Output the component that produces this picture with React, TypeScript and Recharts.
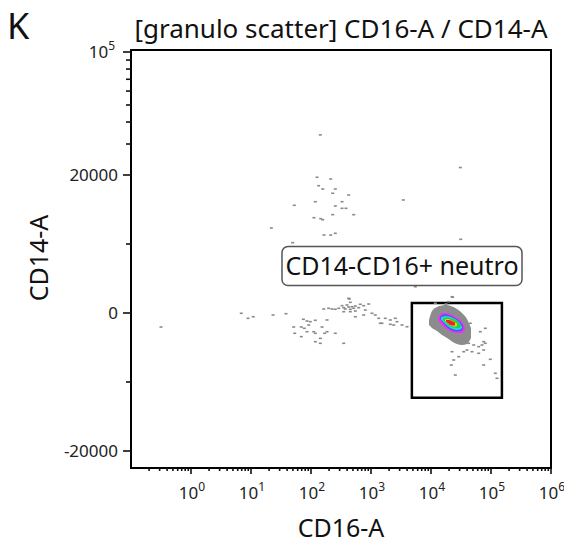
import { ComposedChart, Scatter, Area, XAxis, YAxis, ReferenceArea, ReferenceDot } from 'recharts';

const FONT = '"Noto Sans", "DejaVu Sans", sans-serif';

// individual events outside the dense cluster: [CD16-A, CD14-A]
const sparseEvents: [number, number][] = [
  [143, 33800], [30800, 22050], [126, 19670], [213, 19420], [134, 18450],
  [157, 17970], [254, 17970], [230, 17350], [425, 17100], [118, 16130],
  [329, 16130], [3455, 16380], [52.7, 15610], [254, 15510], [329, 15170],
  [383, 15170], [515, 14250], [230, 14250], [112, 13810], [145, 13670],
  [157, 13520], [21.8, 12320], [165, 11300], [213, 11300], [254, 11550],
  [49.5, 10190], [31300, 10680], [210, 9380], [5475, 3810], [425, 2130],
  [22400, 2360], [1344, 5170],
  [0.316, -2030], [6.89, -43], [8.91, -770], [10.9, -540], [23.3, -290],
  [38.3, -100], [51.5, -2030], [53.5, -2940], [68.9, -3430], [74.5, -910],
  [85.8, -1160], [97.3, -1260], [118, -1060], [68.9, -2030], [77.3, -2220],
  [91.6, -1740], [85.8, -2710], [111, -2710], [118, -2940], [153, -2030],
  [169, -2940], [185, -2710], [254, -2940], [143, -3670], [118, -4160],
  [143, -4390], [351, -4390], [185, -1010],
  [163, 580], [197, 680], [224, 580], [254, 540], [290, 680], [329, 1060],
  [351, 770], [373, 580], [398, 1160], [425, 870], [452, 540], [483, 910],
  [515, 680], [548, 1010], [624, 770], [435, 2030], [452, 1550], [351, 190],
  [452, 190], [548, 290], [663, 1260], [756, 1060], [915, 1300], [804, 430],
  [548, -540], [756, -290], [1039, -43], [1180, -290], [1344, -770],
  [1525, -1490], [1730, -770], [2097, -1010], [2541, -770], [2712, -1260],
  [2097, -1640], [2390, -1740], [3285, -1740], [3981, -1990], [1429, -1490],
  [23000, 2280], [17780, 1300], [11800, 1410], [19720, 1640], [45190, -1490],
  [66320, -2710], [80350, -2220], [42470, -4390], [51500, -4640], [62370, -4880],
  [75520, -4160], [70790, -4640], [80350, -4390], [35080, -5610], [39810, -5360],
  [48200, -5610], [22390, -5610], [28960, -6330], [23900, -6810], [62370, -5840],
  [75520, -5360], [97300, -6710], [75520, -7540], [21790, -7540], [25410, -8990],
  [118000, -8740], [125900, -9460],
];

// density contours of the neutrophil cluster: [CD16-A, CD14-A upper, CD14-A lower]
const contourGray: [number, number, number][] = [
  [9260, -1015, -1740], [10390, 290, -2170], [12590, 870, -2610], [15250, 1090, -3190],
  [18480, 1160, -3620], [22390, 940, -4130], [27120, 580, -4490], [32860, 0, -4640],
  [39810, -870, -4490], [46420, -2170, -3620],
];
const contourMagenta: [number, number, number][] = [
  [13090, -725, -1015], [15250, 0, -1739], [18480, 0, -2319], [22390, -290, -2754],
  [27120, -725, -2899], [32860, -1304, -2899], [36870, -2174, -2464],
];
const contourBlue: [number, number, number][] = [
  [14130, -580, -870], [16480, -220, -1590], [19200, -290, -2170], [22390, -510, -2540],
  [27120, -940, -2680], [31620, -1450, -2610], [34150, -2030, -2320],
];
const contourCyan: [number, number, number][] = [
  [14680, -650, -940], [17110, -435, -1520], [19950, -510, -2030], [23260, -725, -2320],
  [27120, -1090, -2460], [30430, -1520, -2390], [32860, -2030, -2170],
];
const contourGreen: [number, number, number][] = [
  [15850, -800, -1015], [17780, -650, -1450], [20730, -725, -1880], [24170, -940, -2100],
  [28180, -1300, -2170], [31030, -1740, -2030],
];
const contourYellow: [number, number, number][] = [
  [17110, -940, -1160], [19200, -870, -1520], [21540, -1015, -1810], [24170, -1230, -1960],
  [27120, -1520, -1880],
];
const contourRed: [number, number, number][] = [
  [17780, -1015, -1230], [19950, -1015, -1590], [22390, -1160, -1810], [25120, -1380, -1810],
];

const yTickValues = [-20000, -10000, 0, 10000, 20000, 30000, 40000, 50000, 60000, 70000, 80000, 90000, 100000];
const yTickLabels = ['-20000', '', '0', '', '20000', '', '', '', '', '', '', '', '10^5'];

const gate = { x1: 4800, x2: 152000, y1: -12300, y2: 1450 };
const gateLabel = { x: 3285, y: 6800, text: 'CD14-CD16+ neutro' };

const X_DOMAIN: [number, number] = [0.1, 1000000];
const Y_MIN = -22464;
const LIN_TOP = 20000;
const LOG_SPAN = 17826; // display units between 2e4 and 1e5

// biexponential-like display: linear up to 20000, log above
function toDisplay(v: number) {
  if (v <= LIN_TOP) return v;
  return LIN_TOP + (Math.log10(v / LIN_TOP) / Math.log10(5)) * LOG_SPAN;
}
const Y_MAX = 38116;

const W = 564;
const H = 543;

const scatterData = sparseEvents.map(([x, y]) => ({ x, y: toDisplay(y) }));
const toRange = (rows: [number, number, number][]) =>
  rows.map(([x, hi, lo]) => ({ x, range: [toDisplay(lo), toDisplay(hi)] }));

const contours = [
  { rows: contourGray, color: '#8c8c8c' },
  { rows: contourMagenta, color: '#f22ef2' },
  { rows: contourBlue, color: '#3a5cff' },
  { rows: contourCyan, color: '#22d8e6' },
  { rows: contourGreen, color: '#2ccf3a' },
  { rows: contourYellow, color: '#e8d81c' },
  { rows: contourRed, color: '#e8251e' },
];

// minor ticks at 2..9 of every decade plus the decades themselves
const xTicks: number[] = [];
for (let e = -1; e < 6; e++) {
  for (let m = 1; m < 10; m++) {
    if (e === -1 && m === 1) continue;
    xTicks.push(m * Math.pow(10, e));
  }
}
xTicks.push(1000000);

function XTick(props: any) {
  const { x, y, payload } = props;
  const v = payload.value as number;
  const lg = Math.log10(v);
  const e = Math.round(lg);
  const major = Math.abs(lg - e) < 1e-6;
  return (
    <g>
      <line x1={x} x2={x} y1={y} y2={y + (major ? 6 : 3)} stroke="#111" strokeWidth={1.6} />
      {major && e >= 0 && (
        <text x={x + 1} y={y + 31} textAnchor="middle" fontSize={17} fontFamily={FONT} fill="#222">
          10<tspan dy={-8} fontSize={12}>{e}</tspan>
        </text>
      )}
    </g>
  );
}

function YTick(props: any) {
  const { x, y, index } = props;
  const label = yTickLabels[index] ?? '';
  const major = label !== '';
  return (
    <g>
      <line x1={x - (major ? 8 : 5)} x2={x} y1={y} y2={y} stroke="#111" strokeWidth={1.6} />
      {label === '10^5' ? (
        <text x={x - 16} y={y + 6} textAnchor="end" fontSize={17} fontFamily={FONT} fill="#222">
          10<tspan dy={-8} fontSize={12}>5</tspan>
        </text>
      ) : major ? (
        <text x={x - 13} y={y + 6} textAnchor="end" fontSize={17} fontFamily={FONT} fill="#222">
          {label}
        </text>
      ) : null}
    </g>
  );
}

const EventMark = (p: any) => (
  <rect x={p.cx - 1.5} y={p.cy - 0.8} width={3} height={1.6} fill="#8a8a8a" />
);

const GateLabel = (p: any) => (
  <g>
    <rect x={p.cx - 120} y={p.cy - 19.5} width={240} height={39} rx={6} fill="#fff" stroke="#555" strokeWidth={1.5} />
    <text x={p.cx} y={p.cy + 9} textAnchor="middle" fontSize={25} fontFamily={FONT} fill="#111">
      {gateLabel.text}
    </text>
  </g>
);

export default function App() {
  return (
    <div style={{ position: 'absolute', left: 0, top: 0, width: W, height: H, background: '#fff' }}>
      <svg width={W} height={60} style={{ position: 'absolute', left: 0, top: 0 }}>
        <text x={7} y={39} fontSize={36} fontFamily={FONT} fill="#111">K</text>
        <text x={341} y={38} textAnchor="middle" fontSize={26} fontFamily={FONT} fill="#111">
          [granulo scatter] CD16-A / CD14-A
        </text>
      </svg>
      <div style={{ position: 'absolute', left: 0, top: 0 }}>
        <ComposedChart width={W} height={H} margin={{ top: 50, right: 13, bottom: 0, left: 11 }}>
          <XAxis
            dataKey="x"
            type="number"
            scale="log"
            domain={X_DOMAIN}
            allowDataOverflow
            ticks={xTicks}
            interval={0}
            tick={<XTick />}
            tickSize={0}
            tickMargin={0}
            tickLine={false}
            axisLine={false}
            height={75}
            label={{
              content: (p: any) => (
                <text
                  x={p.viewBox.x + p.viewBox.width / 2}
                  y={p.viewBox.y + 69}
                  textAnchor="middle"
                  fontSize={25}
                  fontFamily={FONT}
                  fill="#111"
                >
                  CD16-A
                </text>
              ),
            }}
          />
          <YAxis
            type="number"
            domain={[Y_MIN, Y_MAX]}
            allowDataOverflow
            ticks={yTickValues.map(toDisplay)}
            interval={0}
            tick={<YTick />}
            tickSize={0}
            tickMargin={0}
            tickLine={false}
            axisLine={false}
            width={120}
            label={{
              content: (p: any) => {
                const cx = 48;
                const cy = p.viewBox.y + p.viewBox.height / 2 - 1;
                return (
                  <text
                    x={cx}
                    y={cy}
                    transform={`rotate(-90, ${cx}, ${cy})`}
                    textAnchor="middle"
                    fontSize={25}
                    fontFamily={FONT}
                    fill="#111"
                  >
                    CD14-A
                  </text>
                );
              },
            }}
          />
          <Scatter data={scatterData} dataKey="y" shape={EventMark} isAnimationActive={false} />
          {contours.map((c, i) => (
            <Area
              key={i}
              data={toRange(c.rows)}
              dataKey="range"
              type="monotone"
              stroke="none"
              fill={c.color}
              fillOpacity={1}
              dot={false}
              activeDot={false}
              isAnimationActive={false}
            />
          ))}
          <ReferenceArea
            x1={gate.x1}
            x2={gate.x2}
            y1={toDisplay(gate.y1)}
            y2={toDisplay(gate.y2)}
            fill="none"
            fillOpacity={0}
            stroke="#000"
            strokeWidth={2.5}
          />
          <ReferenceArea
            x1={X_DOMAIN[0]}
            x2={X_DOMAIN[1]}
            y1={Y_MIN}
            y2={Y_MAX}
            fill="none"
            fillOpacity={0}
            stroke="#000"
            strokeWidth={2}
          />
          <ReferenceDot x={gateLabel.x} y={toDisplay(gateLabel.y)} shape={GateLabel} />
        </ComposedChart>
      </div>
    </div>
  );
}
